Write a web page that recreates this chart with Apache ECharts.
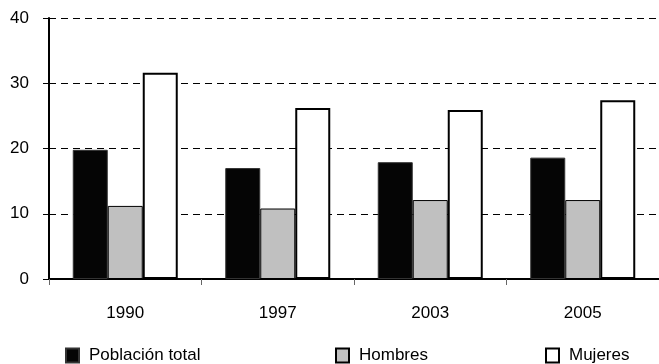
<!DOCTYPE html>
<html>
<head>
<meta charset="utf-8">
<script src="https://cdn.jsdelivr.net/npm/echarts@6/dist/echarts.min.js"></script>
<style>
  html, body { margin: 0; padding: 0; background: #fff; }
  #app { width: 659px; height: 364px; }
</style>
</head>
<body>
<div id="app"></div>
<script>
const years = ['1990', '1997', '2003', '2005']
const total = [19.8, 17.0, 17.9, 18.6]
const hombres = [11.2, 10.8, 12.1, 12.1]
const mujeres = [31.6, 26.2, 25.9, 27.4]
const yTicks = [0, 10, 20, 30, 40]

const font = 'Liberation Sans, Arial, sans-serif'
const chart = echarts.init(document.getElementById('app'), null, { renderer: 'canvas' })

// one legend per item so each can sit where the original has it
function legendAt(name, left) {
  return {
    data: [name],
    left: left,
    top: 347,
    padding: 0,
    icon: 'rect',
    itemWidth: 13,
    itemHeight: 14,
    selectedMode: false,
    textStyle: {
      fontFamily: font,
      fontSize: 17,
      color: '#000',
      padding: [0, 0, 0, 5]
    }
  }
}

chart.setOption({
  animation: false,
  backgroundColor: '#fff',
  grid: {
    left: 49,
    top: 18,
    width: 615,
    height: 261
  },
  legend: [
    legendAt('Población total', 65),
    legendAt('Hombres', 335),
    legendAt('Mujeres', 545)
  ],
  xAxis: {
    type: 'category',
    data: years,
    axisLine: { lineStyle: { color: '#000', width: 2 } },
    axisTick: { show: true, length: 6, lineStyle: { color: '#666' } },
    axisLabel: { fontFamily: font, fontSize: 17, color: '#000', margin: 26 },
    splitLine: { show: false }
  },
  yAxis: {
    type: 'value',
    min: yTicks[0],
    max: yTicks[yTicks.length - 1],
    interval: 10,
    axisLine: { show: true, lineStyle: { color: '#000', width: 2 } },
    axisTick: { show: true, length: 6, lineStyle: { color: '#000' } },
    axisLabel: { fontFamily: font, fontSize: 17, color: '#000', margin: 20 },
    splitLine: { lineStyle: { color: '#000', width: 1, type: [7, 5] } }
  },
  series: [
    {
      name: 'Población total',
      type: 'bar',
      data: total,
      barWidth: 35,
      barGap: '0%',
      itemStyle: { color: '#050505', borderColor: '#333', borderWidth: 1 }
    },
    {
      name: 'Hombres',
      type: 'bar',
      data: hombres,
      barWidth: 35,
      barGap: '0%',
      itemStyle: { color: '#c0c0c0', borderColor: '#000', borderWidth: 1 }
    },
    {
      name: 'Mujeres',
      type: 'bar',
      data: mujeres,
      barWidth: 35,
      barGap: '0%',
      itemStyle: { color: '#fff', borderColor: '#000', borderWidth: 2 }
    }
  ]
})
</script>
</body>
</html>
